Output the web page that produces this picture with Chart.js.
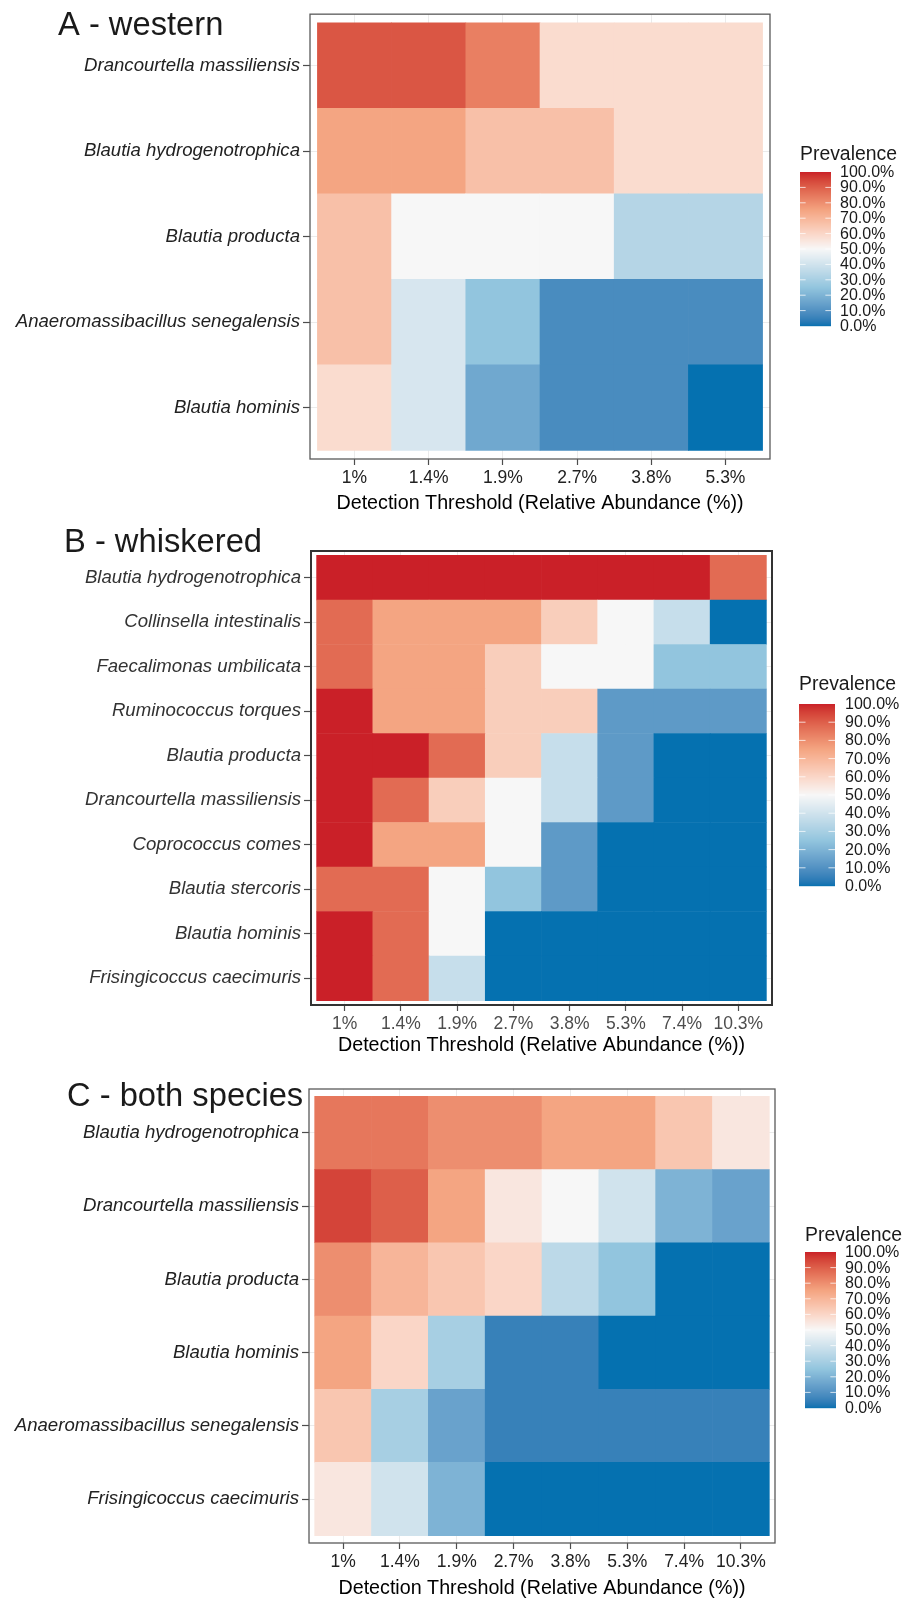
<!DOCTYPE html>
<html>
<head>
<meta charset="utf-8">
<script src="https://cdn.jsdelivr.net/npm/chart.js@4.4.1/dist/chart.umd.min.js"></script>
<style>
  html, body { margin: 0; padding: 0; background: #ffffff; }
  #page { position: relative; width: 904px; height: 1601px; background: #ffffff; overflow: hidden; }
  #page canvas { position: absolute; left: 0; }
</style>
</head>
<body>
<div id="page">
  <canvas id="panelA" width="904" height="520" style="top:0px"></canvas>
  <canvas id="panelB" width="904" height="540" style="top:520px"></canvas>
  <canvas id="panelC" width="904" height="541" style="top:1060px"></canvas>
</div>
<script>
// ---- data -------------------------------------------------------------
const thresholdsA = ['1%', '1.4%', '1.9%', '2.7%', '3.8%', '5.3%'];
const thresholdsB = ['1%', '1.4%', '1.9%', '2.7%', '3.8%', '5.3%', '7.4%', '10.3%'];
const thresholdsC = ['1%', '1.4%', '1.9%', '2.7%', '3.8%', '5.3%', '7.4%', '10.3%'];

const speciesA = [
  'Drancourtella massiliensis',
  'Blautia hydrogenotrophica',
  'Blautia producta',
  'Anaeromassibacillus senegalensis',
  'Blautia hominis'
];
// prevalence (%) per species (rows) and threshold (columns)
const prevalenceA = [
  [91.7, 91.7, 83.3, 58.3, 58.3, 58.3],
  [75.0, 75.0, 66.7, 66.7, 58.3, 58.3],
  [66.7, 50.0, 50.0, 50.0, 33.3, 33.3],
  [66.7, 41.7, 25.0, 8.3, 8.3, 8.3],
  [58.3, 41.7, 16.7, 8.3, 8.3, 0.0]
];

const speciesB = [
  'Blautia hydrogenotrophica',
  'Collinsella intestinalis',
  'Faecalimonas umbilicata',
  'Ruminococcus torques',
  'Blautia producta',
  'Drancourtella massiliensis',
  'Coprococcus comes',
  'Blautia stercoris',
  'Blautia hominis',
  'Frisingicoccus caecimuris'
];
const prevalenceB = [
  [100, 100, 100, 100, 100, 100, 100, 87.5],
  [87.5, 75, 75, 75, 62.5, 50, 37.5, 0],
  [87.5, 75, 75, 62.5, 50, 50, 25, 25],
  [100, 75, 75, 62.5, 62.5, 12.5, 12.5, 12.5],
  [100, 100, 87.5, 62.5, 37.5, 12.5, 0, 0],
  [100, 87.5, 62.5, 50, 37.5, 12.5, 0, 0],
  [100, 75, 75, 50, 12.5, 0, 0, 0],
  [87.5, 87.5, 50, 25, 12.5, 0, 0, 0],
  [100, 87.5, 50, 0, 0, 0, 0, 0],
  [100, 87.5, 37.5, 0, 0, 0, 0, 0]
];

const speciesC = [
  'Blautia hydrogenotrophica',
  'Drancourtella massiliensis',
  'Blautia producta',
  'Blautia hominis',
  'Anaeromassibacillus senegalensis',
  'Frisingicoccus caecimuris'
];
const prevalenceC = [
  [85, 85, 80, 80, 75, 75, 65, 55],
  [95, 90, 75, 55, 50, 40, 20, 15],
  [80, 70, 65, 60, 35, 25, 0, 0],
  [75, 60, 30, 5, 5, 0, 0, 0],
  [65, 30, 15, 5, 5, 5, 5, 5],
  [55, 40, 20, 0, 0, 0, 0, 0]
];

// colour bar breaks (%)
const legendBreaks = [0, 10, 20, 30, 40, 50, 60, 70, 80, 90, 100];
// diverging palette stops at 0, 25, 50, 75, 100 %
const paletteStops = ['#0571B0', '#92C5DE', '#F7F7F7', '#F4A582', '#CA2028'];

// ---- colour scale (interpolated in CIE Lab) ---------------------------
const WX = 0.95047, WY = 1.0, WZ = 1.08883;
function hexToRgb(h) { return [1, 3, 5].map(i => parseInt(h.slice(i, i + 2), 16)); }
function toLin(c) { c /= 255; return c <= 0.04045 ? c / 12.92 : Math.pow((c + 0.055) / 1.055, 2.4); }
function fromLin(c) {
  const v = c <= 0.0031308 ? 12.92 * c : 1.055 * Math.pow(c, 1 / 2.4) - 0.055;
  return Math.round(Math.max(0, Math.min(1, v)) * 255);
}
function fLab(t) { return t > 0.008856 ? Math.cbrt(t) : 7.787 * t + 16 / 116; }
function fLabInv(t) { return t > 0.206893 ? t * t * t : (t - 16 / 116) / 7.787; }
function rgbToLab(rgb) {
  const R = toLin(rgb[0]), G = toLin(rgb[1]), B = toLin(rgb[2]);
  const X = (0.4124 * R + 0.3576 * G + 0.1805 * B) / WX;
  const Y = (0.2126 * R + 0.7152 * G + 0.0722 * B) / WY;
  const Z = (0.0193 * R + 0.1192 * G + 0.9505 * B) / WZ;
  const fx = fLab(X), fy = fLab(Y), fz = fLab(Z);
  return [116 * fy - 16, 500 * (fx - fy), 200 * (fy - fz)];
}
function labToRgb(lab) {
  const fy = (lab[0] + 16) / 116, fx = fy + lab[1] / 500, fz = fy - lab[2] / 200;
  const X = fLabInv(fx) * WX, Y = fLabInv(fy) * WY, Z = fLabInv(fz) * WZ;
  const R = 3.2406 * X - 1.5372 * Y - 0.4986 * Z;
  const G = -0.9689 * X + 1.8758 * Y + 0.0415 * Z;
  const B = 0.0557 * X - 0.2040 * Y + 1.0570 * Z;
  return [fromLin(R), fromLin(G), fromLin(B)];
}
const stopLabs = paletteStops.map(h => rgbToLab(hexToRgb(h)));
function prevalenceColor(v) {
  const t = Math.max(0, Math.min(100, v)) / 100 * (stopLabs.length - 1);
  const i = Math.min(stopLabs.length - 2, Math.floor(t));
  const f = t - i;
  const a = stopLabs[i], b = stopLabs[i + 1];
  const rgb = labToRgb([a[0] + (b[0] - a[0]) * f, a[1] + (b[1] - a[1]) * f, a[2] + (b[2] - a[2]) * f]);
  return 'rgb(' + rgb.join(',') + ')';
}

// ---- panel decoration: frame, panel title, colour bar -----------------
const panelDecor = {
  id: 'panelDecor',
  afterDraw(chart, args, o) {
    const ctx = chart.ctx;
    const ca = chart.chartArea;
    ctx.save();
    // panel frame
    ctx.strokeStyle = o.frameColor;
    ctx.lineWidth = o.frameWidth;
    ctx.strokeRect(ca.left, ca.top, ca.right - ca.left, ca.bottom - ca.top);
    // panel title
    ctx.fillStyle = '#1a1a1a';
    ctx.font = '32.7px "Liberation Sans", Arial, Helvetica, sans-serif';
    ctx.textAlign = 'left';
    ctx.textBaseline = 'alphabetic';
    ctx.fillText(o.title, o.titleX, o.titleBaseline);
    // colour bar
    const L = o.legend;
    ctx.font = '19.4px "Liberation Sans", Arial, Helvetica, sans-serif';
    ctx.fillText('Prevalence', L.x, L.titleBaseline);
    const h = L.bottom - L.top;
    for (let p = 0; p < h; p++) {
      const v = 100 * (1 - (p + 0.5) / h);
      ctx.fillStyle = prevalenceColor(v);
      ctx.fillRect(L.x, L.top + p, L.width, 1.2);
    }
    ctx.strokeStyle = 'rgba(255,255,255,0.75)';
    ctx.lineWidth = 1;
    ctx.font = '16px "Liberation Sans", Arial, Helvetica, sans-serif';
    ctx.textBaseline = 'middle';
    legendBreaks.forEach(b => {
      const y = L.bottom - (b / 100) * h;
      if (b > 0 && b < 100) {
        const tl = L.width / 5.5;
        ctx.beginPath();
        ctx.moveTo(L.x, y); ctx.lineTo(L.x + tl, y);
        ctx.moveTo(L.x + L.width - tl, y); ctx.lineTo(L.x + L.width, y);
        ctx.stroke();
      }
      ctx.fillStyle = '#1a1a1a';
      ctx.fillText(b.toFixed(1) + '%', L.labelX, y + 0.5);
    });
    ctx.restore();
  }
};

// ---- heatmap built from floating horizontal bars ----------------------
function heatmap(canvasId, species, thresholds, values, look) {
  const cells = [];
  const colors = [];
  values.forEach((row, r) => {
    row.forEach((v, k) => {
      cells.push({ x: [k - 0.5, k + 0.5], y: r });
      colors.push(prevalenceColor(v));
    });
  });
  const canvas = document.getElementById(canvasId);
  const H = canvas.height;
  const family = '"Liberation Sans", Arial, Helvetica, sans-serif';
  return new Chart(canvas, {
    type: 'bar',
    data: {
      datasets: [{
        data: cells,
        backgroundColor: colors,
        borderWidth: 0,
        borderSkipped: false,
        barPercentage: 1,
        categoryPercentage: 1
      }]
    },
    plugins: [panelDecor],
    options: {
      indexAxis: 'y',
      responsive: false,
      animation: false,
      devicePixelRatio: 1,
      events: [],
      layout: { padding: { left: 0, top: look.area.top, right: 904 - look.area.right, bottom: 0 } },
      plugins: {
        legend: { display: false },
        tooltip: { enabled: false },
        panelDecor: look.decor
      },
      scales: {
        x: {
          type: 'linear',
          min: -0.6,
          max: thresholds.length - 0.4,
          offset: false,
          beginAtZero: false,
          afterBuildTicks: s => { s.ticks = thresholds.map((_, i) => ({ value: i })); },
          afterFit: s => { s.height = H - look.area.bottom; },
          grid: { color: '#EBEBEB', lineWidth: 1, offset: false, drawTicks: true, tickLength: 6, tickColor: '#4d4d4d', tickWidth: 1.2 },
          border: { display: false },
          ticks: {
            autoSkip: false, maxRotation: 0, minRotation: 0, padding: 2.5,
            color: look.xTickColor,
            font: { family: family, size: 17.5 },
            callback: (v, i) => thresholds[i]
          },
          title: {
            display: true,
            text: 'Detection Threshold (Relative Abundance (%))',
            color: '#000000',
            font: { family: family, size: 19.7 },
            padding: { top: 0, bottom: look.xTitlePad }
          }
        },
        y: {
          type: 'linear',
          reverse: true,
          min: -0.6,
          max: species.length - 0.4,
          offset: false,
          afterBuildTicks: s => { s.ticks = species.map((_, i) => ({ value: i })); },
          afterFit: s => { s.width = look.area.left; },
          grid: { color: '#EBEBEB', lineWidth: 1, offset: false, drawTicks: true, tickLength: 7, tickColor: '#4d4d4d', tickWidth: 1.2 },
          border: { display: false },
          ticks: {
            autoSkip: false, padding: 3,
            color: look.yTickColor,
            font: { family: family, size: 18.6, style: 'italic' },
            callback: (v, i) => species[i]
          }
        }
      }
    }
  });
}

heatmap('panelA', speciesA, thresholdsA, prevalenceA, {
  area: { left: 310, right: 770, top: 11, bottom: 459 },
  xTitlePad: 5, xTickColor: '#222222', yTickColor: '#222222',
  decor: {
    title: 'A - western', titleX: 58, titleBaseline: 35,
    frameColor: '#5a5a5a', frameWidth: 1.3,
    legend: { x: 800, width: 31, top: 172, bottom: 326, titleBaseline: 160, labelX: 840 }
  }
});

heatmap('panelB', speciesB, thresholdsB, prevalenceB, {
  area: { left: 311, right: 772, top: 31, bottom: 485 },
  xTitlePad: 3, xTickColor: '#4d4d4d', yTickColor: '#333333',
  decor: {
    title: 'B - whiskered', titleX: 64, titleBaseline: 32,
    frameColor: '#333333', frameWidth: 2,
    legend: { x: 799, width: 36, top: 184, bottom: 366, titleBaseline: 170, labelX: 845 }
  }
});

heatmap('panelC', speciesC, thresholdsC, prevalenceC, {
  area: { left: 309, right: 775, top: 29, bottom: 483 },
  xTitlePad: 1, xTickColor: '#222222', yTickColor: '#222222',
  decor: {
    title: 'C - both species', titleX: 67, titleBaseline: 46,
    frameColor: '#5a5a5a', frameWidth: 1.3,
    legend: { x: 805, width: 31, top: 192, bottom: 348, titleBaseline: 181, labelX: 845 }
  }
});
</script>
</body>
</html>
